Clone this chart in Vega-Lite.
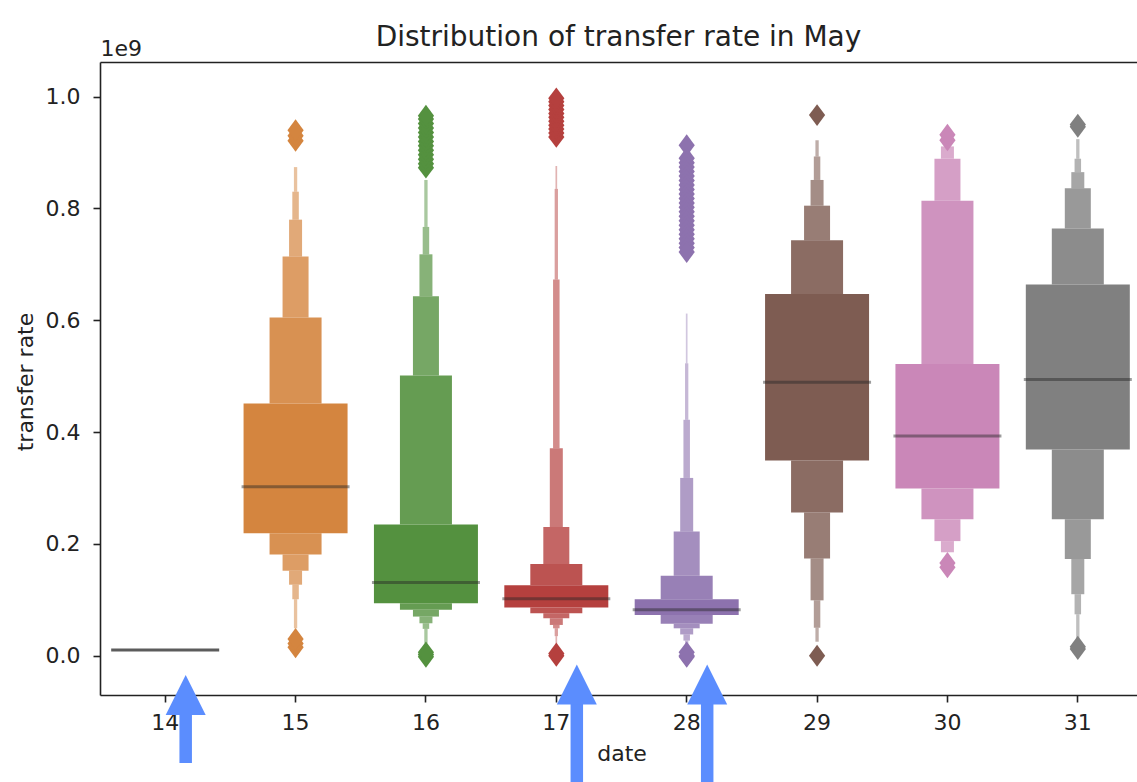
{
  "$schema": "https://vega.github.io/schema/vega-lite/v6.json",
  "autosize": {"type": "none"},
  "width": 1037,
  "height": 633,
  "padding": {"left": 100, "top": 62, "right": 0, "bottom": 87},
  "background": "white",
  "config": {
    "font": "DejaVu Sans",
    "view": {"stroke": null},
    "axis": {"grid": false, "domainColor": "#222222", "domainWidth": 1.6, "tickColor": "#222222", "tickWidth": 1.6, "labelColor": "#222222", "titleColor": "#222222", "labelFont": "DejaVu Sans", "titleFont": "DejaVu Sans", "titleFontWeight": "normal"}
  },
  "title": {"text": "Distribution of transfer rate in May", "fontSize": 28, "fontWeight": "normal", "color": "#222222", "anchor": "middle", "baseline": "alphabetic", "offset": -37},
  "datasets": {
    "boxes": [
      {"date": "15", "level": 1, "v": 0.219, "v2": 0.451},
      {"date": "15", "level": 2, "v": 0.451, "v2": 0.605},
      {"date": "15", "level": 2, "v": 0.181, "v2": 0.219},
      {"date": "15", "level": 3, "v": 0.605, "v2": 0.714},
      {"date": "15", "level": 3, "v": 0.152, "v2": 0.181},
      {"date": "15", "level": 4, "v": 0.714, "v2": 0.780},
      {"date": "15", "level": 4, "v": 0.127, "v2": 0.152},
      {"date": "15", "level": 5, "v": 0.780, "v2": 0.830},
      {"date": "15", "level": 5, "v": 0.101, "v2": 0.127},
      {"date": "15", "level": 6, "v": 0.830, "v2": 0.874},
      {"date": "15", "level": 6, "v": 0.049, "v2": 0.101},

      {"date": "16", "level": 1, "v": 0.094, "v2": 0.2345},
      {"date": "16", "level": 2, "v": 0.2345, "v2": 0.501},
      {"date": "16", "level": 2, "v": 0.082, "v2": 0.094},
      {"date": "16", "level": 3, "v": 0.501, "v2": 0.643},
      {"date": "16", "level": 3, "v": 0.070, "v2": 0.082},
      {"date": "16", "level": 4, "v": 0.643, "v2": 0.718},
      {"date": "16", "level": 4, "v": 0.058, "v2": 0.070},
      {"date": "16", "level": 5, "v": 0.718, "v2": 0.767},
      {"date": "16", "level": 5, "v": 0.048, "v2": 0.058},
      {"date": "16", "level": 6, "v": 0.767, "v2": 0.851},
      {"date": "16", "level": 6, "v": 0.022, "v2": 0.048},

      {"date": "17", "level": 1, "v": 0.086, "v2": 0.126},
      {"date": "17", "level": 2, "v": 0.126, "v2": 0.164},
      {"date": "17", "level": 2, "v": 0.076, "v2": 0.086},
      {"date": "17", "level": 3, "v": 0.164, "v2": 0.230},
      {"date": "17", "level": 3, "v": 0.067, "v2": 0.076},
      {"date": "17", "level": 4, "v": 0.230, "v2": 0.371},
      {"date": "17", "level": 4, "v": 0.055, "v2": 0.067},
      {"date": "17", "level": 5, "v": 0.371, "v2": 0.673},
      {"date": "17", "level": 5, "v": 0.049, "v2": 0.055},
      {"date": "17", "level": 6, "v": 0.673, "v2": 0.835},
      {"date": "17", "level": 6, "v": 0.035, "v2": 0.049},
      {"date": "17", "level": 7, "v": 0.835, "v2": 0.876},
      {"date": "17", "level": 7, "v": 0.022, "v2": 0.035},

      {"date": "28", "level": 1, "v": 0.073, "v2": 0.101},
      {"date": "28", "level": 2, "v": 0.101, "v2": 0.143},
      {"date": "28", "level": 2, "v": 0.057, "v2": 0.073},
      {"date": "28", "level": 3, "v": 0.143, "v2": 0.222},
      {"date": "28", "level": 3, "v": 0.049, "v2": 0.057},
      {"date": "28", "level": 4, "v": 0.222, "v2": 0.318},
      {"date": "28", "level": 4, "v": 0.038, "v2": 0.049},
      {"date": "28", "level": 5, "v": 0.318, "v2": 0.422},
      {"date": "28", "level": 5, "v": 0.027, "v2": 0.038},
      {"date": "28", "level": 6, "v": 0.422, "v2": 0.523},
      {"date": "28", "level": 6, "v": 0.018, "v2": 0.027},
      {"date": "28", "level": 7, "v": 0.523, "v2": 0.612},
      {"date": "28", "level": 7, "v": 0.012, "v2": 0.018},

      {"date": "29", "level": 1, "v": 0.349, "v2": 0.647},
      {"date": "29", "level": 2, "v": 0.647, "v2": 0.743},
      {"date": "29", "level": 2, "v": 0.256, "v2": 0.349},
      {"date": "29", "level": 3, "v": 0.743, "v2": 0.805},
      {"date": "29", "level": 3, "v": 0.174, "v2": 0.256},
      {"date": "29", "level": 4, "v": 0.805, "v2": 0.851},
      {"date": "29", "level": 4, "v": 0.099, "v2": 0.174},
      {"date": "29", "level": 5, "v": 0.851, "v2": 0.893},
      {"date": "29", "level": 5, "v": 0.050, "v2": 0.099},
      {"date": "29", "level": 6, "v": 0.893, "v2": 0.922},
      {"date": "29", "level": 6, "v": 0.025, "v2": 0.050},

      {"date": "30", "level": 1, "v": 0.299, "v2": 0.522},
      {"date": "30", "level": 2, "v": 0.522, "v2": 0.814},
      {"date": "30", "level": 2, "v": 0.244, "v2": 0.299},
      {"date": "30", "level": 3, "v": 0.814, "v2": 0.889},
      {"date": "30", "level": 3, "v": 0.205, "v2": 0.244},
      {"date": "30", "level": 4, "v": 0.889, "v2": 0.911},
      {"date": "30", "level": 4, "v": 0.185, "v2": 0.205},

      {"date": "31", "level": 1, "v": 0.369, "v2": 0.664},
      {"date": "31", "level": 2, "v": 0.664, "v2": 0.764},
      {"date": "31", "level": 2, "v": 0.244, "v2": 0.369},
      {"date": "31", "level": 3, "v": 0.764, "v2": 0.836},
      {"date": "31", "level": 3, "v": 0.173, "v2": 0.244},
      {"date": "31", "level": 4, "v": 0.836, "v2": 0.865},
      {"date": "31", "level": 4, "v": 0.110, "v2": 0.173},
      {"date": "31", "level": 5, "v": 0.865, "v2": 0.889},
      {"date": "31", "level": 5, "v": 0.074, "v2": 0.110},
      {"date": "31", "level": 6, "v": 0.889, "v2": 0.924},
      {"date": "31", "level": 6, "v": 0.029, "v2": 0.074}
    ],
    "medians": [
      {"date": "14", "v": 0.0102},
      {"date": "15", "v": 0.302},
      {"date": "16", "v": 0.131},
      {"date": "17", "v": 0.102},
      {"date": "28", "v": 0.082},
      {"date": "29", "v": 0.489},
      {"date": "30", "v": 0.393},
      {"date": "31", "v": 0.494}
    ],
    "outliers": [
      {"date": "15", "v": 0.921}, {"date": "15", "v": 0.930}, {"date": "15", "v": 0.940},
      {"date": "15", "v": 0.015}, {"date": "15", "v": 0.022}, {"date": "15", "v": 0.030},
      {"date": "16", "v": 0.873}, {"date": "16", "v": 0.880}, {"date": "16", "v": 0.888}, {"date": "16", "v": 0.896},
      {"date": "16", "v": 0.904}, {"date": "16", "v": 0.912}, {"date": "16", "v": 0.920}, {"date": "16", "v": 0.928},
      {"date": "16", "v": 0.936}, {"date": "16", "v": 0.944}, {"date": "16", "v": 0.952}, {"date": "16", "v": 0.960},
      {"date": "16", "v": 0.966},
      {"date": "16", "v": -0.002}, {"date": "16", "v": 0.002}, {"date": "16", "v": 0.006},
      {"date": "17", "v": 0.928}, {"date": "17", "v": 0.935}, {"date": "17", "v": 0.942}, {"date": "17", "v": 0.949},
      {"date": "17", "v": 0.956}, {"date": "17", "v": 0.963}, {"date": "17", "v": 0.970}, {"date": "17", "v": 0.977},
      {"date": "17", "v": 0.984}, {"date": "17", "v": 0.991}, {"date": "17", "v": 0.997},
      {"date": "17", "v": 0.000}, {"date": "17", "v": 0.004},
      {"date": "28", "v": 0.913}, {"date": "28", "v": 0.890}, {"date": "28", "v": 0.882}, {"date": "28", "v": 0.874},
      {"date": "28", "v": 0.866}, {"date": "28", "v": 0.858}, {"date": "28", "v": 0.850}, {"date": "28", "v": 0.842},
      {"date": "28", "v": 0.834}, {"date": "28", "v": 0.826}, {"date": "28", "v": 0.818}, {"date": "28", "v": 0.810},
      {"date": "28", "v": 0.802}, {"date": "28", "v": 0.794}, {"date": "28", "v": 0.786}, {"date": "28", "v": 0.778},
      {"date": "28", "v": 0.770}, {"date": "28", "v": 0.762}, {"date": "28", "v": 0.754}, {"date": "28", "v": 0.746},
      {"date": "28", "v": 0.738}, {"date": "28", "v": 0.730}, {"date": "28", "v": 0.722},
      {"date": "28", "v": -0.002}, {"date": "28", "v": 0.000}, {"date": "28", "v": 0.006},
      {"date": "29", "v": 0.967}, {"date": "29", "v": 0.000},
      {"date": "30", "v": 0.922}, {"date": "30", "v": 0.932},
      {"date": "30", "v": 0.158}, {"date": "30", "v": 0.166},
      {"date": "31", "v": 0.946}, {"date": "31", "v": 0.950},
      {"date": "31", "v": 0.012}, {"date": "31", "v": 0.016}
    ],
    "arrows": [
      {"date": "14", "v": -0.0703, "v2": -0.192},
      {"date": "17", "v": -0.0515, "v2": -0.26},
      {"date": "28", "v": -0.0515, "v2": -0.26}
    ]
  },
  "encoding": {
    "x": {
      "field": "date", "type": "nominal",
      "scale": {"domain": ["14", "15", "16", "17", "28", "29", "30", "31"], "range": [0, 1043], "paddingInner": 0, "paddingOuter": 0},
      "axis": null
    },
    "y": {
      "field": "v", "type": "quantitative", "title": "transfer rate",
      "scale": {"domain": [-0.0703, 1.062], "nice": false, "zero": false},
      "axis": {
        "values": [0, 0.2, 0.4, 0.6, 0.8, 1.0], "format": ".1f",
        "labelFontSize": 22, "tickSize": 7, "labelPadding": 13,
        "titleFontSize": 22, "titleAngle": -90, "titleX": -68, "titleY": 319.5,
        "titleBaseline": "alphabetic", "titleAlign": "center"
      }
    }
  },
  "layer": [
    {
      "data": {"name": "boxes"},
      "mark": {"type": "bar"},
      "encoding": {
        "x": {
          "field": "date", "type": "nominal",
          "scale": {"domain": ["14", "15", "16", "17", "28", "29", "30", "31"], "range": [0, 1043], "paddingInner": 0, "paddingOuter": 0},
          "axis": {
            "orient": "bottom", "title": "date", "labelAngle": 0, "labelFontSize": 22,
            "tickSize": 7, "labelPadding": 10.5, "titleFontSize": 22,
            "titleY": 65, "titleBaseline": "alphabetic"
          }
        },
        "y2": {"field": "v2"},
        "color": {
          "field": "date", "type": "nominal", "legend": null,
          "scale": {"domain": ["14", "15", "16", "17", "28", "29", "30", "31"],
                    "range": ["#3a75a4", "#d4853f", "#54913f", "#b5403e", "#8d72ae", "#7e5c52", "#ca87b8", "#808080"]}
        },
        "opacity": {
          "field": "level", "type": "quantitative", "legend": null,
          "scale": {"domain": [1, 7], "range": [1, 0.4], "zero": false, "nice": false}
        },
        "size": {
          "field": "level", "type": "quantitative", "legend": null,
          "scale": {"domain": [1, 2, 3, 4, 5, 6, 7], "range": [104, 52, 26, 13, 6.5, 3.3, 1.7], "zero": false, "nice": false}
        }
      }
    },
    {
      "data": {"name": "medians"},
      "mark": {"type": "tick", "color": "#262626", "thickness": 3, "size": 108},
      "encoding": {
        "x": {
          "field": "date", "type": "nominal",
          "scale": {"domain": ["14", "15", "16", "17", "28", "29", "30", "31"], "range": [0, 1043], "paddingInner": 0, "paddingOuter": 0},
          "axis": {
            "orient": "top", "labels": false, "ticks": false, "title": "1e9",
            "titleAngle": 0, "titleAlign": "left", "titleX": 0, "titleY": -7,
            "titleBaseline": "alphabetic", "titleFontSize": 22
          }
        },
        "opacity": {"condition": {"test": "datum.date === '14'", "value": 0.75}, "value": 0.45}
      }
    },
    {
      "data": {"name": "outliers"},
      "mark": {"type": "point", "filled": true, "shape": "M0,-1L0.74,0L0,1L-0.74,0Z", "size": 480, "opacity": 1},
      "encoding": {
        "color": {"field": "date", "type": "nominal", "legend": null}
      }
    },
    {
      "data": {"name": "arrows"},
      "mark": {"type": "rule", "color": "#5b8dfe", "strokeWidth": 12.5, "strokeCap": "butt", "xOffset": 20.5},
      "encoding": {
        "y2": {"field": "v2"}
      }
    },
    {
      "data": {"name": "arrows"},
      "mark": {"type": "point", "filled": true, "shape": "M0,-1L1,1L-1,1Z", "size": 1600, "color": "#5b8dfe", "opacity": 1, "xOffset": 20.5},
      "encoding": {}
    }
  ],
  "resolve": {"axis": {"x": "independent"}}
}
